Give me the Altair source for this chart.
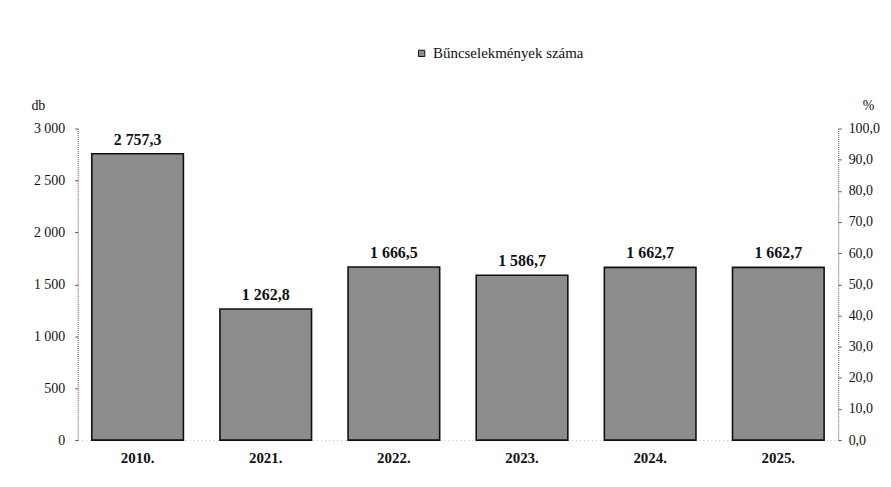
import altair as alt
import pandas as pd

years = ["2010.", "2021.", "2022.", "2023.", "2024.", "2025."]
values = [2757.3, 1262.8, 1666.5, 1586.7, 1662.7, 1662.7]
labels = ["2 757,3", "1 262,8", "1 666,5", "1 586,7", "1 662,7", "1 662,7"]
series_name = "Bűncselekmények száma"
right_axis_domain = [0, 100]

df = pd.DataFrame({"year": years, "value": values, "label": labels, "series": series_name})
df_right = pd.DataFrame({"pct": right_axis_domain})

FONT = "Times New Roman, Liberation Serif, serif"

x_enc = alt.X("year:N", sort=years, title=None,
              scale=alt.Scale(paddingInner=0.285, paddingOuter=0.11),
              axis=alt.Axis(labelFont=FONT, labelFontSize=15, labelFontWeight="bold",
                            labelColor="#111", labelAngle=0, labelPadding=11,
                            domain=True, domainColor="#bbb", domainDash=[1, 3],
                            ticks=False))

y_enc = alt.Y("value:Q",
              scale=alt.Scale(domain=[0, 3000], nice=False),
              axis=alt.Axis(values=[0, 500, 1000, 1500, 2000, 2500, 3000],
                            labelExpr="replace(format(datum.value, ',d'), ',', ' ')",
                            labelFont=FONT, labelFontSize=14, labelColor="#111",
                            labelPadding=10, grid=False,
                            domainColor="#555", domainDash=[1, 1], tickColor="#555",
                            tickSize=3, title="db", titleAngle=0, titleFont=FONT,
                            titleFontSize=14, titleFontWeight="normal", titleColor="#111",
                            titleX=-40, titleY=-23, titleAlign="center",
                            titleBaseline="middle"))

bars = alt.Chart(df).mark_bar(stroke="#111", strokeWidth=1.6).encode(
    x=x_enc,
    y=y_enc,
    color=alt.Color("series:N", scale=alt.Scale(range=["#8c8c8c"]),
                    legend=alt.Legend(title=None, orient="none", legendX=338, legendY=-83,
                                      symbolType="square", symbolSize=40,
                                      symbolStrokeColor="#111", symbolStrokeWidth=1,
                                      labelFont=FONT, labelFontSize=15, labelColor="#111",
                                      labelLimit=300)),
)

text = alt.Chart(df).mark_text(baseline="bottom", dy=-6, font=FONT, fontSize=16,
                               fontWeight="bold", color="#111").encode(
    x=alt.X("year:N", sort=years),
    y=alt.Y("value:Q"),
    text="label:N",
)

left_layer = alt.layer(bars, text)

right = alt.Chart(df_right).mark_point(opacity=0).encode(
    y=alt.Y("pct:Q", scale=alt.Scale(domain=right_axis_domain, nice=False),
            axis=alt.Axis(orient="right", values=list(range(0, 101, 10)),
                          labelExpr="replace(format(datum.value, '.1f'), '.', ',')",
                          labelFont=FONT, labelFontSize=14, labelColor="#111",
                          labelPadding=7, grid=False, domainColor="#555",
                          domainDash=[1, 1], tickColor="#555", tickSize=3,
                          title="%", titleAngle=0, titleFont=FONT, titleFontSize=14,
                          titleFontWeight="normal", titleColor="#111",
                          titleX=30, titleY=-23, titleAlign="center",
                          titleBaseline="middle")),
)

chart = alt.layer(left_layer, right).resolve_scale(y="independent").properties(
    width=764, height=313,
    autosize=alt.AutoSizeParams(type="none"),
    padding={"left": 70, "top": 120, "right": 45, "bottom": 40},
).configure(background="white", font=FONT).configure_view(stroke=None)

chart.save("out.html", embed_options={"renderer": "svg", "actions": False})
